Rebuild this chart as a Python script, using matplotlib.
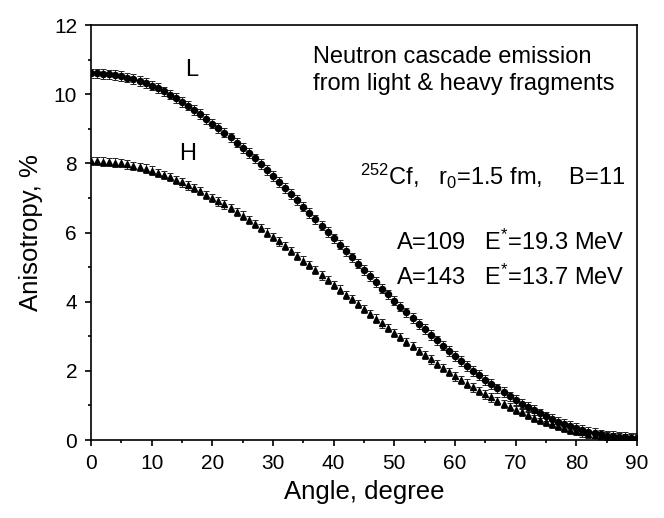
import matplotlib
matplotlib.use("Agg")
import matplotlib.pyplot as plt
import numpy as np

plt.rcParams['font.family'] = ['Liberation Sans', 'DejaVu Sans']
plt.rcParams['mathtext.fontset'] = 'custom'
plt.rcParams['mathtext.rm'] = 'Liberation Sans'
plt.rcParams['mathtext.it'] = 'Liberation Sans'
plt.rcParams['mathtext.bf'] = 'Liberation Sans'

angle = list(range(0, 91))

light = [10.60, 10.60, 10.59, 10.57, 10.55, 10.52, 10.48, 10.43, 10.38, 10.32,
         10.25, 10.17, 10.08, 9.99, 9.89, 9.78, 9.67, 9.54, 9.42, 9.29,
         9.15, 9.02, 8.89, 8.75, 8.60, 8.45, 8.30, 8.14, 7.98, 7.81,
         7.64, 7.47, 7.29, 7.11, 6.93, 6.75, 6.57, 6.38, 6.20, 6.02,
         5.83, 5.65, 5.46, 5.28, 5.10, 4.92, 4.74, 4.56, 4.38, 4.21,
         4.03, 3.86, 3.69, 3.52, 3.36, 3.20, 3.04, 2.88, 2.73, 2.57,
         2.42, 2.28, 2.14, 2.00, 1.87, 1.74, 1.62, 1.49, 1.38, 1.26,
         1.15, 1.05, 0.95, 0.86, 0.77, 0.68, 0.60, 0.53, 0.46, 0.40,
         0.34, 0.29, 0.24, 0.20, 0.16, 0.13, 0.11, 0.09, 0.08, 0.07,
         0.06]

heavy = [8.06, 8.06, 8.05, 8.04, 8.02, 8.00, 7.97, 7.93, 7.89, 7.85,
         7.79, 7.73, 7.67, 7.60, 7.52, 7.45, 7.36, 7.28, 7.19, 7.09,
         7.00, 6.90, 6.81, 6.70, 6.59, 6.49, 6.37, 6.25, 6.13, 6.00,
         5.87, 5.74, 5.60, 5.47, 5.33, 5.19, 5.06, 4.91, 4.76, 4.63,
         4.48, 4.35, 4.20, 4.07, 3.93, 3.79, 3.65, 3.51, 3.37, 3.24,
         3.10, 2.97, 2.84, 2.71, 2.58, 2.45, 2.33, 2.20, 2.09, 1.96,
         1.84, 1.73, 1.63, 1.52, 1.42, 1.32, 1.23, 1.13, 1.05, 0.96,
         0.87, 0.80, 0.72, 0.65, 0.59, 0.52, 0.46, 0.40, 0.35, 0.30,
         0.26, 0.22, 0.18, 0.15, 0.12, 0.10, 0.08, 0.07, 0.06, 0.05,
         0.05]

light_err = 0.14
heavy_err = 0.12

fig = plt.figure(figsize=(6.64, 5.18), dpi=100)
ax = fig.add_axes([91/664, 78/518, 546/664, 415/518])

ax.errorbar(angle, light, yerr=light_err, fmt='o', color='black', ms=4.4,
            ecolor='#222222', elinewidth=0.7, capsize=2.1, capthick=0.7, zorder=3)
ax.errorbar(angle, heavy, yerr=heavy_err, fmt='^', color='black', ms=4.8,
            ecolor='#222222', elinewidth=0.7, capsize=2.1, capthick=0.7, zorder=3)

ax.set_xlim(0, 90)
ax.set_ylim(0, 12)
ax.set_xticks(range(0, 91, 10))
ax.set_xticks(range(5, 91, 10), minor=True)
ax.set_yticks(range(0, 13, 2))
ax.set_yticks(range(1, 13, 2), minor=True)
ax.tick_params(which='major', direction='out', length=4.5, width=1.2,
               labelsize=15, pad=5.5, top=False, right=False)
ax.tick_params(which='minor', direction='out', length=2.5, width=1.2,
               top=False, right=False)
for s in ax.spines.values():
    s.set_linewidth(1.2)

ax.set_xlabel('Angle, degree', fontsize=18.5, labelpad=5)
ax.set_ylabel('Anisotropy, %', fontsize=18.5, labelpad=8)

tfs = 17
ax.text(0.407, 0.9084, 'Neutron cascade emission', transform=ax.transAxes,
        fontsize=tfs, ha='left', va='baseline')
ax.text(0.407, 0.8434, 'from light & heavy fragments', transform=ax.transAxes,
        fontsize=tfs, ha='left', va='baseline')
ax.text(0.978, 0.6145, r'$^{252}$Cf,   r$_0$=1.5 fm,    B=11', transform=ax.transAxes,
        fontsize=tfs, ha='right', va='baseline')
ax.text(0.978, 0.4578, r'A=109   E$^{*}$=19.3 MeV', transform=ax.transAxes,
        fontsize=tfs, ha='right', va='baseline')
ax.text(0.978, 0.3735, r'A=143   E$^{*}$=13.7 MeV', transform=ax.transAxes,
        fontsize=tfs, ha='right', va='baseline')
ax.text(0.185, 0.877, 'L', transform=ax.transAxes, fontsize=tfs, ha='center', va='baseline')
ax.text(0.177, 0.6747, 'H', transform=ax.transAxes, fontsize=tfs, ha='center', va='baseline')

fig.savefig('out.png', dpi=100)
